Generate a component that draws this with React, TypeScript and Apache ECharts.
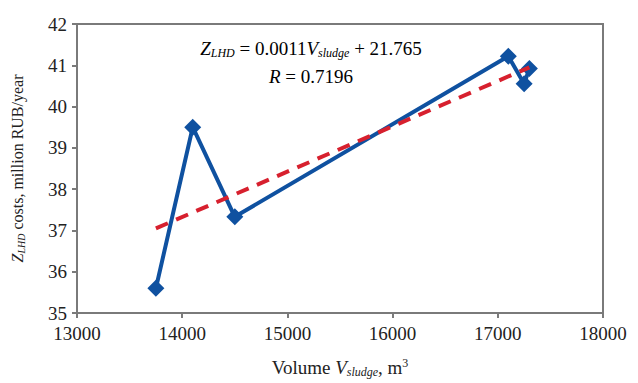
import React, { useEffect, useRef } from "react";
import * as echarts from "echarts";

const volumes = [13750, 14100, 14500, 17100, 17250, 17300];
const costs = [35.6, 39.5, 37.33, 41.22, 40.55, 40.92];
const trendX = [13750, 17300];
const trendY = [37.05, 40.95];
const xTicks = [13000, 14000, 15000, 16000, 17000, 18000];
const yTicks = [35, 36, 37, 38, 39, 40, 41, 42];

const FONT = "Liberation Serif";

function makeRich(size: number) {
  const sub = Math.round(size * 0.65);
  return {
    i: { fontFamily: FONT, fontStyle: "italic", fontSize: size, color: "#222" },
    sub: { fontFamily: FONT, fontStyle: "italic", fontSize: sub, color: "#222", verticalAlign: "bottom", padding: [Math.round(size * 0.45), 0, 0, 0] },
    sup: { fontFamily: FONT, fontSize: sub, color: "#222", verticalAlign: "top", padding: [0, 0, Math.round(size * 0.35), 0] },
    n: { fontFamily: FONT, fontSize: size, color: "#222" },
  };
}

export default function App() {
  const ref = useRef<HTMLDivElement>(null);
  useEffect(() => {
    if (!ref.current) return;
    const chart = echarts.init(ref.current, null, { renderer: "svg" });
    const axisLine = { show: true, lineStyle: { color: "#7a7a7a", width: 2 } };
    const tickLabel = {
      fontFamily: FONT,
      fontSize: 19,
      color: "#222",
      formatter: (v: number) => String(v),
    };
    chart.setOption({
      animation: false,
      textStyle: { fontFamily: FONT },
      grid: { left: 77, right: 35, top: 24, bottom: 70, show: true, borderColor: "#7a7a7a", borderWidth: 2 },
      xAxis: {
        type: "value",
        min: xTicks[0],
        max: xTicks[xTicks.length - 1],
        interval: 1000,
        axisLine,
        axisTick: { show: true, inside: false, length: 5, lineStyle: { color: "#7a7a7a", width: 2 } },
        splitLine: { show: false },
        axisLabel: { ...tickLabel, margin: 11 },
        name: "{n|Volume }{i|V}{sub|sludge}{n|, m}{sup|3}",
        nameLocation: "middle",
        nameGap: 44,
        nameTextStyle: { rich: makeRich(19) },
      },
      yAxis: {
        type: "value",
        min: yTicks[0],
        max: yTicks[yTicks.length - 1],
        interval: 1,
        axisLine,
        axisTick: { show: true, inside: false, length: 5, lineStyle: { color: "#7a7a7a", width: 2 } },
        splitLine: { show: false },
        axisLabel: { ...tickLabel, margin: 10 },
        name: "{i|Z}{sub|LHD}{n| costs, million RUB/year}",
        nameLocation: "middle",
        nameGap: 51,
        nameTextStyle: { rich: makeRich(16) },
      },
      graphic: [
        {
          type: "text",
          x: 311,
          y: 48,
          style: {
            text: "{i|Z}{sub|LHD}{n| = 0.0011}{i|V}{sub|sludge}{n| + 21.765}",
            rich: makeRich(19),
            align: "center",
            verticalAlign: "middle",
          },
        },
        {
          type: "text",
          x: 311,
          y: 76,
          style: {
            text: "{i|R}{n| = 0.7196}",
            rich: makeRich(19),
            align: "center",
            verticalAlign: "middle",
          },
        },
      ],
      series: [
        {
          type: "line",
          data: trendX.map((x, i) => [x, trendY[i]]),
          showSymbol: false,
          symbol: "none",
          lineStyle: { color: "#d7202e", width: 4, type: [13, 9] },
          z: 3,
        },
        {
          type: "line",
          data: volumes.map((x, i) => [x, costs[i]]),
          symbol: "diamond",
          symbolSize: 17,
          itemStyle: { color: "#0f51a0" },
          lineStyle: { color: "#0f51a0", width: 4 },
          z: 2,
        },
      ],
    });
    return () => chart.dispose();
  }, []);
  return <div ref={ref} style={{ width: 638, height: 383, position: "absolute", left: 0, top: 0, background: "#fff" }} />;
}
